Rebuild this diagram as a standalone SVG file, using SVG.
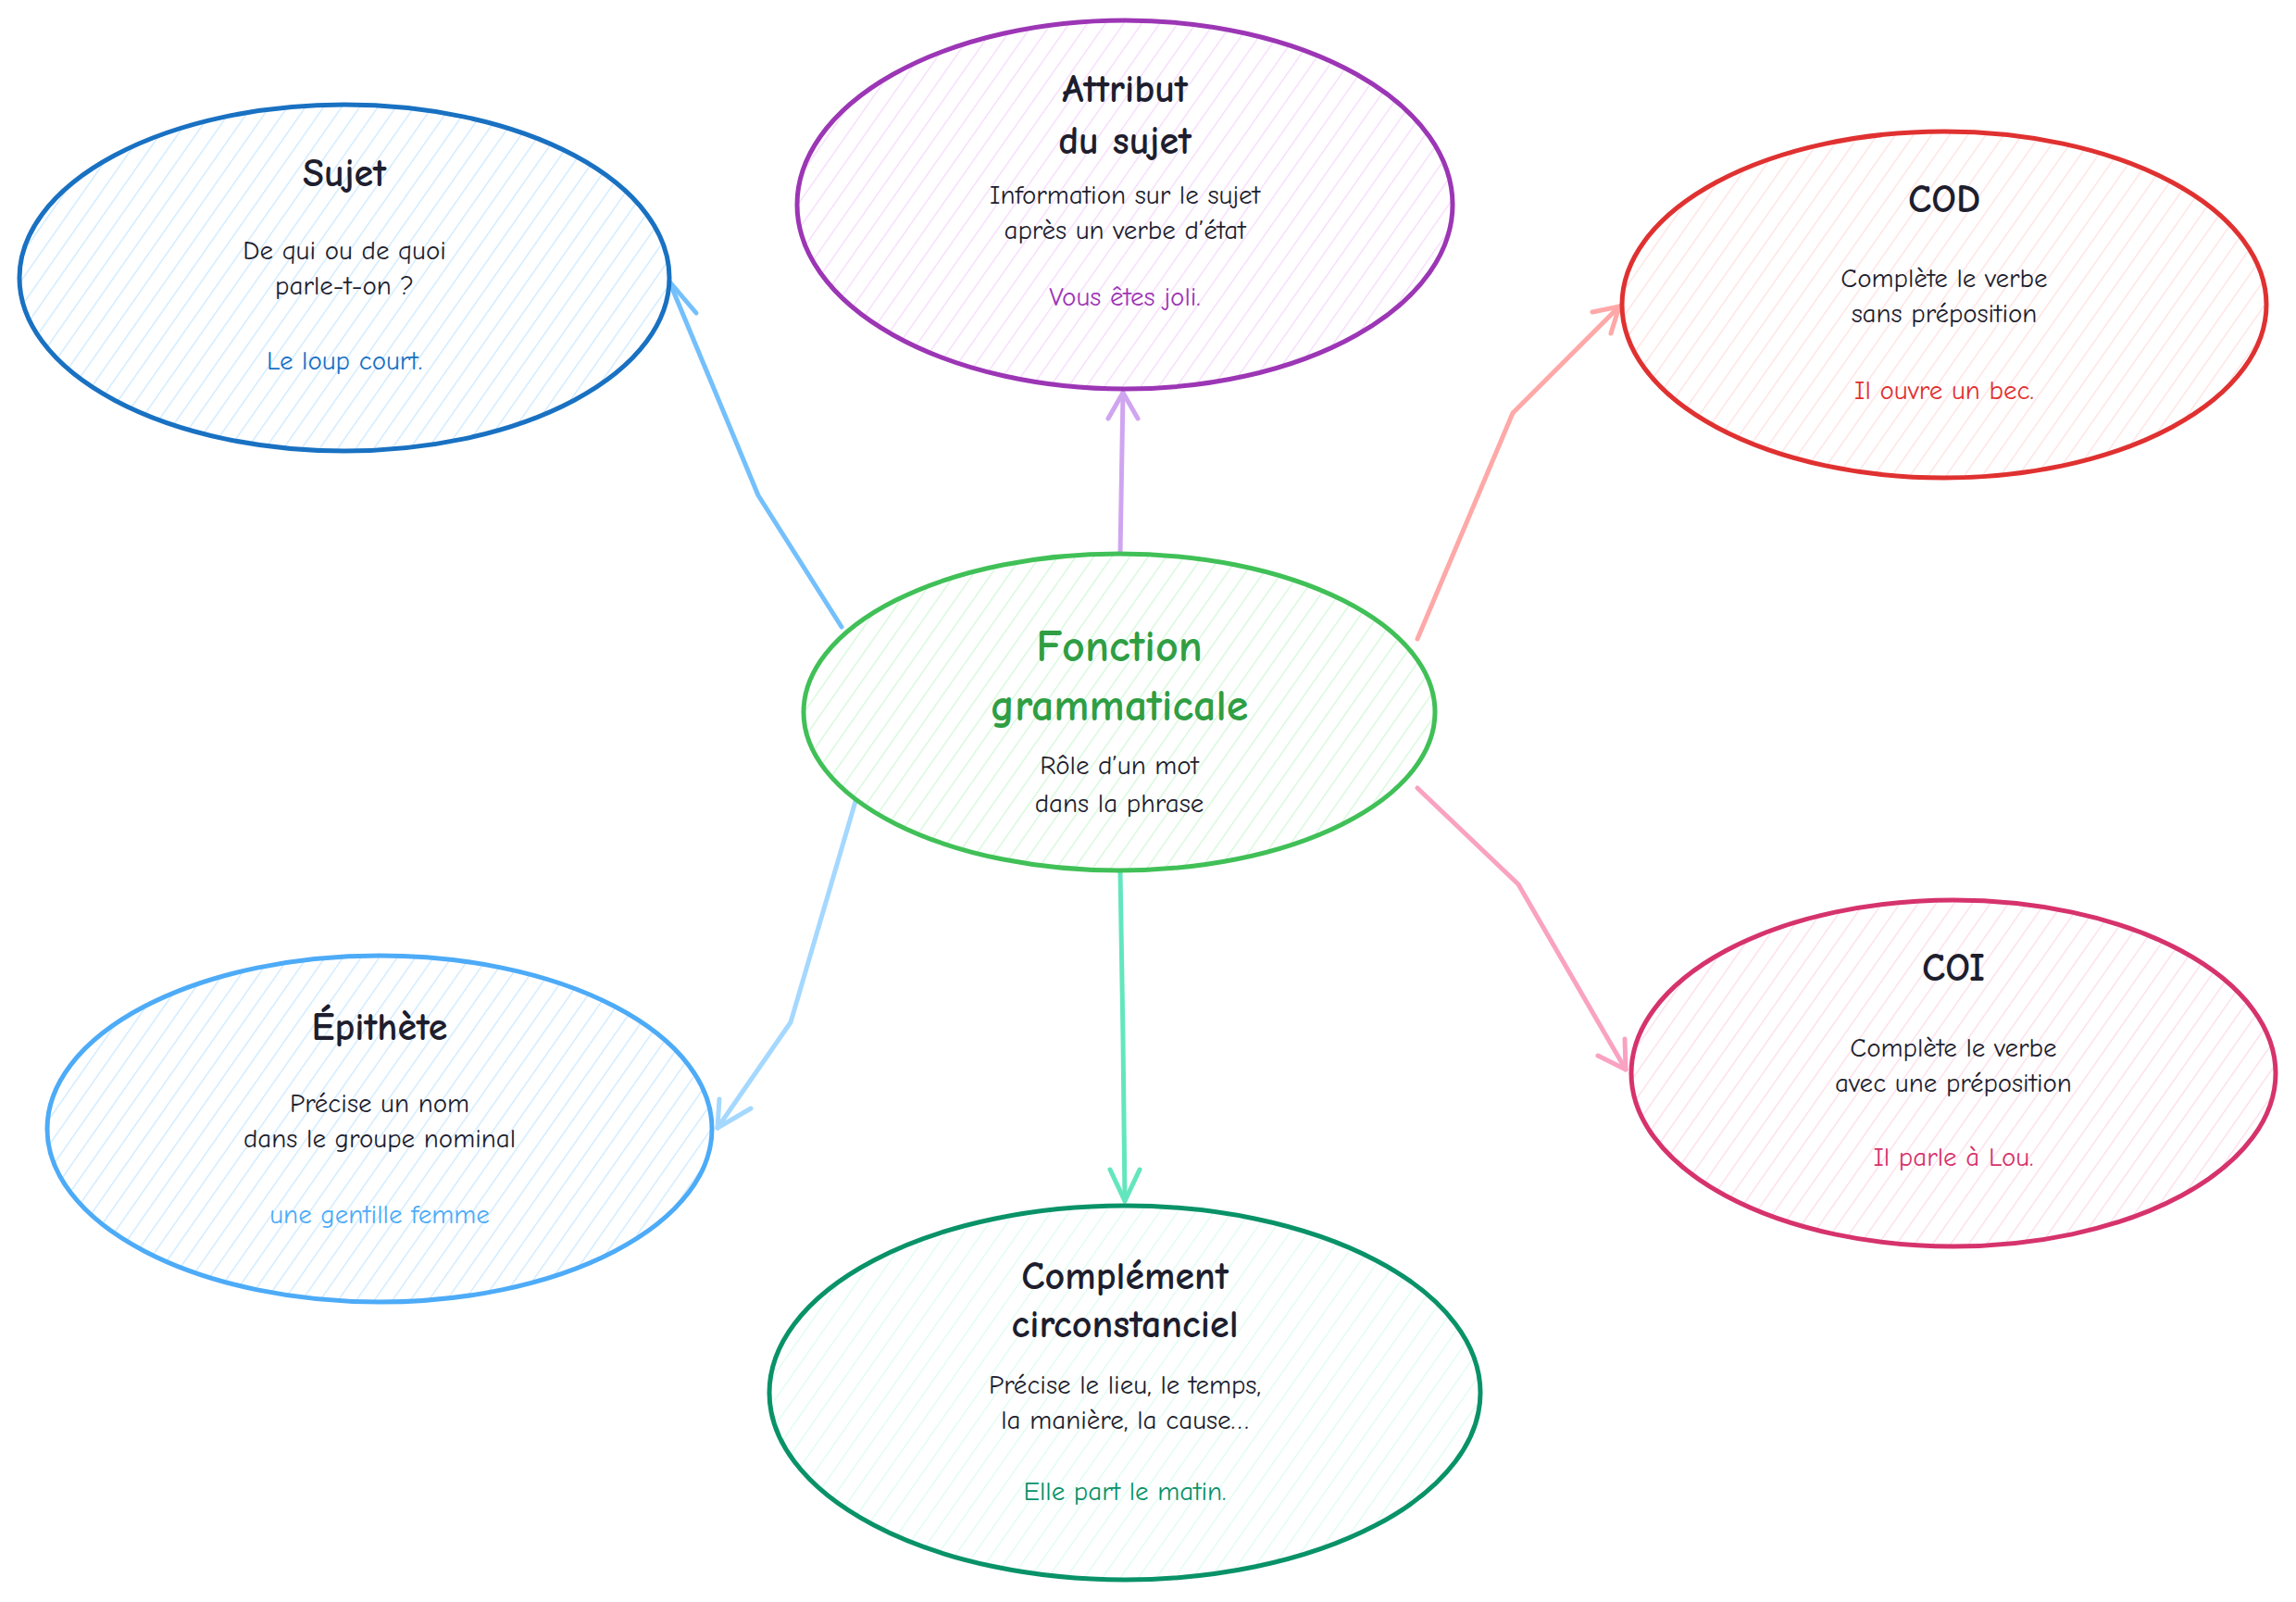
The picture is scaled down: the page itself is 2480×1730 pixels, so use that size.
<svg xmlns="http://www.w3.org/2000/svg" width="2480" height="1730" viewBox="0 0 2480 1730">
<style>
text{font-family:"Comic Neue","Liberation Sans",sans-serif;text-anchor:middle;}
.t{font-size:42px;font-weight:bold;fill:#1e1e2e;}
.b{font-size:29px;fill:#1e1e2e;}
.e{font-size:29px;}
.n{stroke-width:5;}
.c{fill:none;stroke-width:5;stroke-linecap:round;stroke-linejoin:round;}
</style>
<defs>
<pattern id="hb" width="16" height="16" patternUnits="userSpaceOnUse" patternTransform="rotate(35)"><rect width="16" height="16" fill="#fff"/><line x1="0" y1="0" x2="0" y2="16" stroke="#a5d8ff" stroke-width="2.5" opacity="0.6"/></pattern>
<pattern id="hp" width="16" height="16" patternUnits="userSpaceOnUse" patternTransform="rotate(35)"><rect width="16" height="16" fill="#fff"/><line x1="0" y1="0" x2="0" y2="16" stroke="#eebefa" stroke-width="2.5" opacity="0.6"/></pattern>
<pattern id="hr" width="16" height="16" patternUnits="userSpaceOnUse" patternTransform="rotate(35)"><rect width="16" height="16" fill="#fff"/><line x1="0" y1="0" x2="0" y2="16" stroke="#ffc9c9" stroke-width="2.5" opacity="0.6"/></pattern>
<pattern id="hk" width="16" height="16" patternUnits="userSpaceOnUse" patternTransform="rotate(35)"><rect width="16" height="16" fill="#fff"/><line x1="0" y1="0" x2="0" y2="16" stroke="#fcc2d7" stroke-width="2.5" opacity="0.6"/></pattern>
<pattern id="hg" width="16" height="16" patternUnits="userSpaceOnUse" patternTransform="rotate(35)"><rect width="16" height="16" fill="#fff"/><line x1="0" y1="0" x2="0" y2="16" stroke="#b2f2bb" stroke-width="2.5" opacity="0.6"/></pattern>
<pattern id="ht" width="16" height="16" patternUnits="userSpaceOnUse" patternTransform="rotate(35)"><rect width="16" height="16" fill="#fff"/><line x1="0" y1="0" x2="0" y2="16" stroke="#c3fae8" stroke-width="2.5" opacity="0.6"/></pattern>
<marker id="a1" viewBox="0 0 20 20" refX="18" refY="10" markerWidth="12" markerHeight="12" orient="auto" markerUnits="userSpaceOnUse"><path d="M2,2 L18,10 L2,18" fill="none" stroke="context-stroke" stroke-width="2.5"/></marker>
</defs>
<g id="connectors">
<path class="c" d="M909,677 L819,535 L723,304" stroke="#74c0fc"/>
<path class="c" d="M700,318 L723,304 L752,338" stroke="#74c0fc"/>
<path class="c" d="M1210,598 L1213,424" stroke="#d0a5f0"/>
<path class="c" d="M1197,452 L1213,424 L1229,452" stroke="#d0a5f0"/>
<path class="c" d="M1531,690 L1634,446 L1749,331" stroke="#ffa8a8"/>
<path class="c" d="M1720,337 L1749,331 L1740,360" stroke="#ffa8a8"/>
<path class="c" d="M1531,851 L1640,955 L1756,1155" stroke="#faa2c1"/>
<path class="c" d="M1726,1140 L1756,1155 L1755,1122" stroke="#faa2c1"/>
<path class="c" d="M925,862 L854,1104 L775,1218" stroke="#a5d8ff"/>
<path class="c" d="M777,1187 L775,1218 L811,1197" stroke="#a5d8ff"/>
<path class="c" d="M1210,941 L1213,1120 L1215,1297" stroke="#63e6be"/>
<path class="c" d="M1199,1263 L1215,1297 L1231,1263" stroke="#63e6be"/>
</g>
<g id="sujet">
<ellipse class="n" cx="372" cy="300" rx="351" ry="187" fill="url(#hb)" stroke="#1971c2"/>
<text class="t" x="372" y="201">Sujet</text>
<text class="b" x="372" y="280">De qui ou de quoi</text>
<text class="b" x="372" y="318">parle-t-on ?</text>
<text class="e" x="372" y="399" fill="#1971c2">Le loup court.</text>
</g>
<g id="attribut">
<ellipse class="n" cx="1215" cy="221" rx="354" ry="199" fill="url(#hp)" stroke="#9c36b5"/>
<text class="t" x="1215" y="110">Attribut</text>
<text class="t" x="1215" y="166">du sujet</text>
<text class="b" x="1215" y="220">Information sur le sujet</text>
<text class="b" x="1215" y="258">après un verbe d’état</text>
<text class="e" x="1215" y="330" fill="#9c36b5">Vous êtes joli.</text>
</g>
<g id="cod">
<ellipse class="n" cx="2100" cy="329" rx="348" ry="187" fill="url(#hr)" stroke="#e03131"/>
<text class="t" x="2100" y="229">COD</text>
<text class="b" x="2100" y="310">Complète le verbe</text>
<text class="b" x="2100" y="348">sans préposition</text>
<text class="e" x="2100" y="431" fill="#e03131">Il ouvre un bec.</text>
</g>
<g id="center">
<ellipse class="n" cx="1209" cy="769" rx="341" ry="171" fill="url(#hg)" stroke="#40c057"/>
<text x="1209" y="714" font-size="48" font-weight="bold" fill="#2f9e44">Fonction</text>
<text x="1209" y="778" font-size="48" font-weight="bold" fill="#2f9e44">grammaticale</text>
<text class="b" x="1209" y="836" font-size="32">Rôle d’un mot</text>
<text class="b" x="1209" y="877" font-size="32">dans la phrase</text>
</g>
<g id="coi">
<ellipse class="n" cx="2110" cy="1159" rx="348" ry="187" fill="url(#hk)" stroke="#d6336c"/>
<text class="t" x="2110" y="1059">COI</text>
<text class="b" x="2110" y="1141">Complète le verbe</text>
<text class="b" x="2110" y="1179">avec une préposition</text>
<text class="e" x="2110" y="1259" fill="#d6336c">Il parle à Lou.</text>
</g>
<g id="epithete">
<ellipse class="n" cx="410" cy="1219" rx="359" ry="187" fill="url(#hb)" stroke="#4dabf7"/>
<text class="t" x="410" y="1123">Épithète</text>
<text class="b" x="410" y="1201">Précise un nom</text>
<text class="b" x="410" y="1239">dans le groupe nominal</text>
<text class="e" x="410" y="1321" fill="#4dabf7">une gentille femme</text>
</g>
<g id="complement">
<ellipse class="n" cx="1215" cy="1504" rx="384" ry="202" fill="url(#ht)" stroke="#099268"/>
<text class="t" x="1215" y="1392">Complément</text>
<text class="t" x="1215" y="1444">circonstanciel</text>
<text class="b" x="1215" y="1505">Précise le lieu, le temps,</text>
<text class="b" x="1215" y="1543">la manière, la cause…</text>
<text class="e" x="1215" y="1620" fill="#099268">Elle part le matin.</text>
</g>
</svg>
